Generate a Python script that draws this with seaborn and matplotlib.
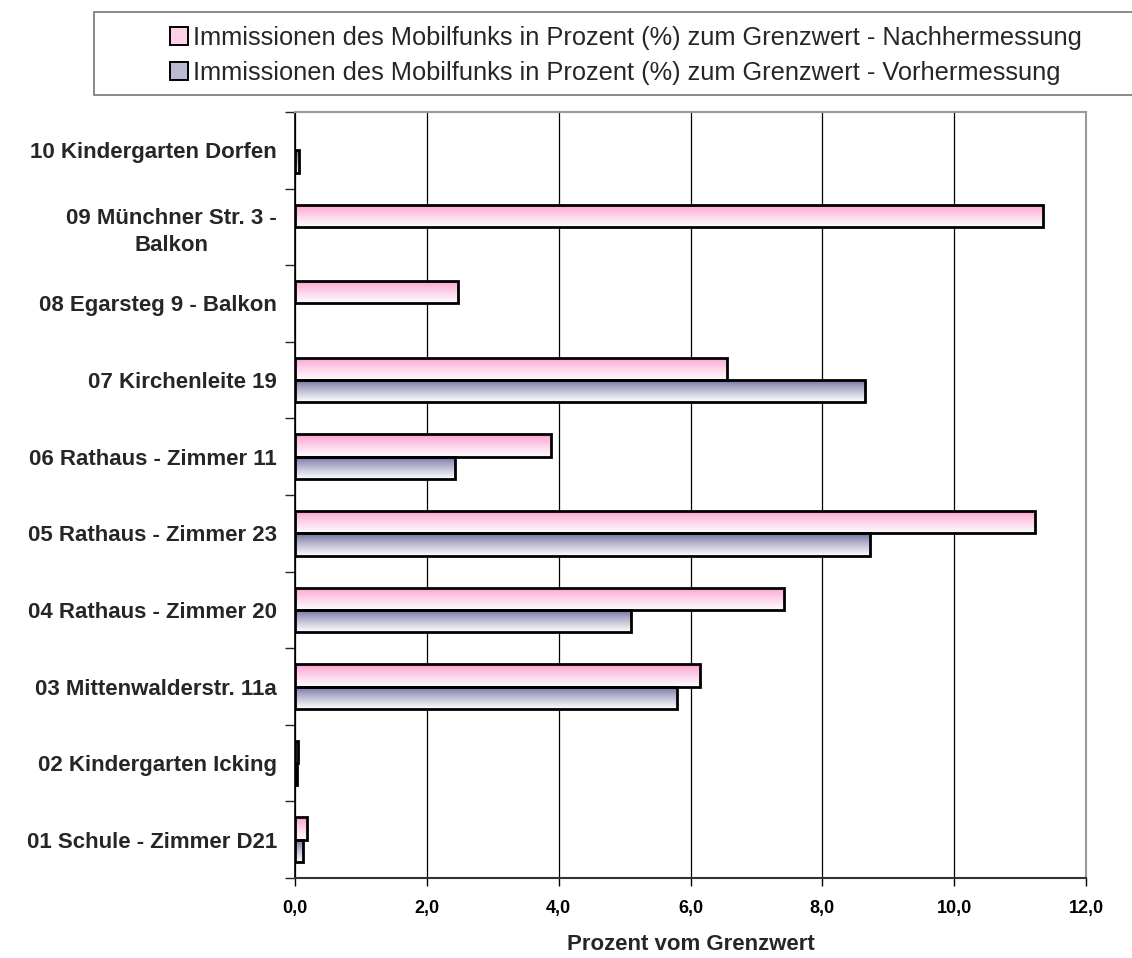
import numpy as np
import pandas as pd
import matplotlib
matplotlib.use('Agg')
import matplotlib.pyplot as plt
import matplotlib.colors as mcolors
from matplotlib.patches import Rectangle, Patch
from matplotlib.ticker import FuncFormatter, FixedLocator
import seaborn as sns

# Data (top to bottom as shown)
standorte = ["10 Kindergarten Dorfen", "09 Münchner Str. 3 -\nBalkon", "08 Egarsteg 9 - Balkon",
             "07 Kirchenleite 19", "06 Rathaus - Zimmer 11", "05 Rathaus - Zimmer 23",
             "04 Rathaus - Zimmer 20", "03 Mittenwalderstr. 11a", "02 Kindergarten Icking",
             "01 Schule - Zimmer D21"]
nachher = [0.0, 11.34, 2.48, 6.56, 3.88, 11.23, 7.42, 6.15, 0.05, 0.18]
vorher = [0.06, 0.0, 0.0, 8.64, 2.42, 8.73, 5.10, 5.80, 0.03, 0.12]
serien = ["Immissionen des Mobilfunks in Prozent (%) zum Grenzwert - Nachhermessung",
          "Immissionen des Mobilfunks in Prozent (%) zum Grenzwert - Vorhermessung"]
farben = ["#ff99cc", "#666699"]
x_ticks = [0, 2, 4, 6, 8, 10, 12]

df = pd.DataFrame({
    "Standort": standorte * 2,
    "Wert": nachher + vorher,
    "Messung": [serien[0]] * len(standorte) + [serien[1]] * len(standorte),
})

sns.set_style("white")
plt.rcParams['font.family'] = ['Liberation Sans', 'DejaVu Sans']

fig = plt.figure(figsize=(11.32, 9.58), dpi=100)
ax = fig.add_axes([0.2606, 0.0835, 0.6988, 0.7996])

sns.barplot(data=df, y="Standort", x="Wert", hue="Messung", order=standorte,
            hue_order=serien, palette=farben, orient="h", width=0.58,
            edgecolor="black", linewidth=2.0, legend=False, ax=ax)

ax.set_xlim(0, 12)
ylim = ax.get_ylim()

# gradient fill inside each bar: colour at the top fading to white
for cont, col in zip(ax.containers, farben):
    rgb = np.array(mcolors.to_rgb(col))
    t = np.linspace(0, 1, 64)[:, None] ** 0.8
    grad = (1 - t) * rgb + t * np.array([0.99, 0.99, 1.0])
    grad = grad[:, None, :]
    for p in cont.patches:
        x0, y0 = p.get_x(), p.get_y()
        w, h = p.get_width(), p.get_height()
        p.set_facecolor("none")
        p.set_zorder(3)
        if w <= 0:
            p.set_visible(False)
            continue
        im = ax.imshow(grad, extent=(x0, x0 + w, y0 + h, y0), origin="upper",
                       aspect="auto", zorder=2.5, interpolation="bilinear")
        im.set_clip_path(p)

ax.set_ylim(ylim)
ax.set_xlim(0, 12)

# grid and spines
ax.set_axisbelow(True)
ax.xaxis.grid(True, color="black", linewidth=0.9)
ax.yaxis.grid(False)
for s in ["top", "right"]:
    ax.spines[s].set_color("#999999")
    ax.spines[s].set_linewidth(1.5)
ax.spines["left"].set_color("black")
ax.spines["bottom"].set_color("#333333")
ax.spines["left"].set_linewidth(1.2)
ax.spines["bottom"].set_linewidth(1.5)

ax.set_xticks(x_ticks)
ax.xaxis.set_major_formatter(FuncFormatter(lambda v, pos: f"{v:.1f}".replace(".", ",")))
ax.tick_params(axis="x", direction="out", length=6, width=1, colors="black",
               labelsize=13, pad=10, bottom=True)
for lbl in ax.get_xticklabels():
    lbl.set_fontweight("bold")

ax.yaxis.set_minor_locator(FixedLocator(np.arange(-0.5, len(standorte), 1.0)))
ax.tick_params(axis="y", which="major", length=0, pad=13, labelsize=16)
ax.tick_params(axis="y", which="minor", direction="out", length=7, width=1, left=True)
for lbl in ax.get_yticklabels():
    lbl.set_fontweight("bold")
    lbl.set_multialignment("center")
    lbl.set_linespacing(1.35)

ax.set_ylabel("")
ax.set_xlabel("Prozent vom Grenzwert", fontsize=16, fontweight="bold", labelpad=12)

# legend box
fig.patches.append(Rectangle((94 / 1132, 1 - 95 / 958), 1.1, 83 / 958,
                             transform=fig.transFigure, facecolor="white",
                             edgecolor="#777777", linewidth=1.2, zorder=0))
handles = [Patch(facecolor=mcolors.to_hex(0.45 * np.array(mcolors.to_rgb(c)) + 0.55), edgecolor="black",
                 linewidth=1.4) for c in farben]
fig.legend(handles, serien, loc="upper left", bbox_to_anchor=(170 / 1132, 1 - 26 / 958),
           frameon=False, fontsize=18.3, handlelength=0.72, handleheight=0.72,
           handletextpad=0.2, labelspacing=0.42, borderaxespad=0, borderpad=0)

fig.savefig("out.png", dpi=100)
